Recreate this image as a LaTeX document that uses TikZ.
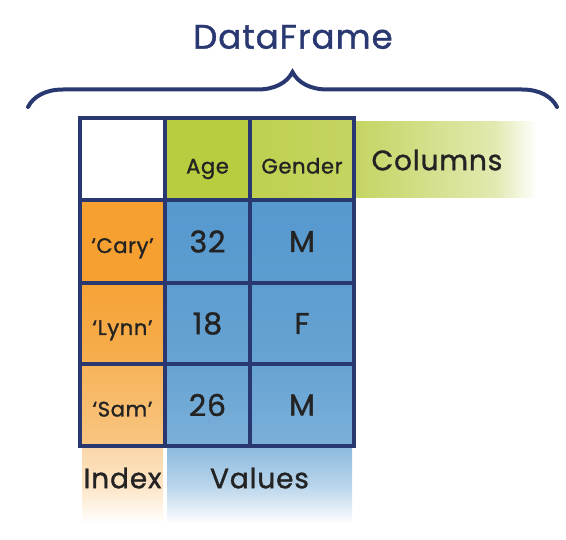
\documentclass[tikz,border=0pt]{standalone}
\usepackage{fontspec}
\setmainfont{Poppins}[FakeBold=1.2, LetterSpace=3]
\usepackage{tikz}
\usetikzlibrary{decorations.pathreplacing}
\usepackage{xcolor}
\definecolor{dfnavy}{RGB}{41,56,112}
\definecolor{dfink}{RGB}{35,35,35}
\definecolor{dfgreen}{RGB}{186,204,64}
\definecolor{dfgreenlt}{RGB}{198,212,98}
\definecolor{dfgreenpale}{RGB}{226,233,176}
\definecolor{dforange}{RGB}{245,160,48}
\definecolor{dfblue}{RGB}{86,153,206}

\begin{document}
\begin{tikzpicture}[x=1pt,y=-1pt,
	cell/.style={draw=dfnavy, line width=4pt, inner sep=0pt, outer sep=0pt, text=dfink},
	small/.style={font=\fontsize{21}{21}\selectfont, text height=23pt, text depth=0pt},
	head/.style={font=\fontsize{21}{21}\selectfont, text height=29pt, text depth=0pt},
	big/.style={font=\fontsize{30}{30}\selectfont},
	tag/.style={text=dfink, font=\fontsize{28}{28}\selectfont}]
	\useasboundingbox (0,0) rectangle (566,540);
	
	% title and brace
	\node[text=dfnavy, font=\fontsize{34}{34}\selectfont] (title) at (293,37) {DataFrame};
	\coordinate (bl) at (28,107);
	\coordinate (br) at (557,107);
	\draw[dfnavy, line width=4pt, line cap=round, decorate, decoration={brace, amplitude=35pt}] (bl) -- (br);
	
	% fading bands
	\shade[left color=dfgreenlt, right color=dfgreenpale] (354,122) rectangle (495,198);
	\shade[left color=dfgreenpale, right color=white] (495,122) rectangle (537,198);
	\shade[top color=dforange!42!white, bottom color=white, middle color=dforange!28!white] (82,446) rectangle (163,524);
	\shade[top color=dfblue!68!white, bottom color=white, middle color=dfblue!42!white] (167,446) rectangle (352,524);
	
	% header row
	\node[cell, minimum width=85pt, minimum height=82pt, fill=white] (corner) at (122.5,159) {};
	\node[cell, head, minimum width=85pt, minimum height=82pt, fill=dfgreen] (hage) at (207.5,159) {Age};
	\node[cell, head, minimum width=104pt, minimum height=82pt, left color=dfgreen!92!white, right color=dfgreenlt] (hgender) at (302,159) {Gender};
	
	% index column
	\node[cell, small, minimum width=85pt, minimum height=83pt, fill=dforange] (icary) at (122.5,241.5) {‘Cary’};
	\node[cell, small, minimum width=85pt, minimum height=81pt, top color=dforange!97!white, bottom color=dforange!85!white] (ilynn) at (122.5,323.5) {‘Lynn’};
	\node[cell, small, minimum width=85pt, minimum height=82pt, top color=dforange!80!white, bottom color=dforange!60!white] (isam) at (122.5,405) {‘Sam’};
	
	% values
	\node[cell, big, minimum width=85pt, minimum height=83pt, top color=dfblue, bottom color=dfblue!96!white] (vage1) at (207.5,241.5) {32};
	\node[cell, big, minimum width=104pt, minimum height=83pt, top color=dfblue, bottom color=dfblue!96!white] (vgen1) at (302,241.5) {M};
	\node[cell, big, minimum width=85pt, minimum height=81pt, top color=dfblue!96!white, bottom color=dfblue!90!white] (vage2) at (207.5,323.5) {18};
	\node[cell, big, minimum width=104pt, minimum height=81pt, top color=dfblue!96!white, bottom color=dfblue!90!white] (vgen2) at (302,323.5) {F};
	\node[cell, big, minimum width=85pt, minimum height=82pt, top color=dfblue!90!white, bottom color=dfblue!78!white] (vage3) at (207.5,405) {26};
	\node[cell, big, minimum width=104pt, minimum height=82pt, top color=dfblue!90!white, bottom color=dfblue!78!white] (vgen3) at (302,405) {M};
	
	% band labels
	\node[tag] (lcolumns) at (437,160) {Columns};
	\node[tag] (lindex) at (122.5,478) {Index};
	\node[tag] (lvalues) at (259.5,478) {Values};
	
\end{tikzpicture}
\end{document}
